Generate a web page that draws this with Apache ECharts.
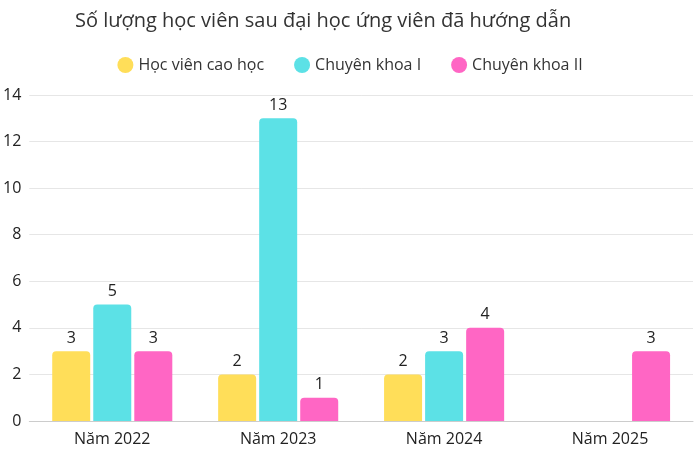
<!DOCTYPE html>
<html>
<head>
<meta charset="utf-8">
<script src="https://cdn.jsdelivr.net/npm/echarts@6/dist/echarts.min.js"></script>
<style>html,body{margin:0;padding:0;background:#fff}#container{width:700px;height:457px}</style>
</head>
<body>
<div id="container"></div>
<script>
var categories = ['Năm 2022', 'Năm 2023', 'Năm 2024', 'Năm 2025'];
var hocVien = [3, 2, 2, 0];
var ck1 = [5, 13, 3, 0];
var ck2 = [3, 1, 4, 3];

var myChart = echarts.init(document.getElementById('container'));
var font = 'Open Sans';

function bar(name, data, color) {
    return {
        name: name,
        type: 'bar',
        data: data,
        barWidth: 38,
        barGap: '8%',
        itemStyle: {color: color, borderRadius: [4, 4, 0, 0]},
        label: {
            show: true, position: 'top', color: '#222', fontSize: 16, fontFamily: font,
            formatter: function (p) { return p.value ? p.value : ''; }
        }
    };
}

var option = {
    textStyle: {fontFamily: font},
    title: {
        text: 'Số lượng học viên sau đại học ứng viên đã hướng dẫn',
        left: 70, top: 6,
        textStyle: {fontSize: 20, fontWeight: 'normal', color: '#333', fontFamily: font}
    },
    legend: {
        top: 52, left: 'center', icon: 'circle', itemWidth: 16, itemHeight: 16, itemGap: 30,
        textStyle: {fontSize: 16, color: '#333', fontFamily: font}
    },
    grid: {left: 27, right: 7, top: 95, bottom: 36},
    xAxis: {
        type: 'category',
        data: categories,
        axisTick: {show: false},
        axisLine: {lineStyle: {color: '#ccc'}},
        axisLabel: {fontSize: 16, color: '#222', margin: 10}
    },
    yAxis: {
        type: 'value', min: 0, max: 14, interval: 2,
        axisLabel: {fontSize: 16, color: '#222', inside: false, margin: 8},
        splitLine: {lineStyle: {color: '#e6e6e6'}}
    },
    series: [
        bar('Học viên cao học', hocVien, '#FFDE59'),
        bar('Chuyên khoa I', ck1, '#5CE1E6'),
        bar('Chuyên khoa II', ck2, '#FF66C4')
    ]
};
myChart.setOption(option);
</script>
</body>
</html>
